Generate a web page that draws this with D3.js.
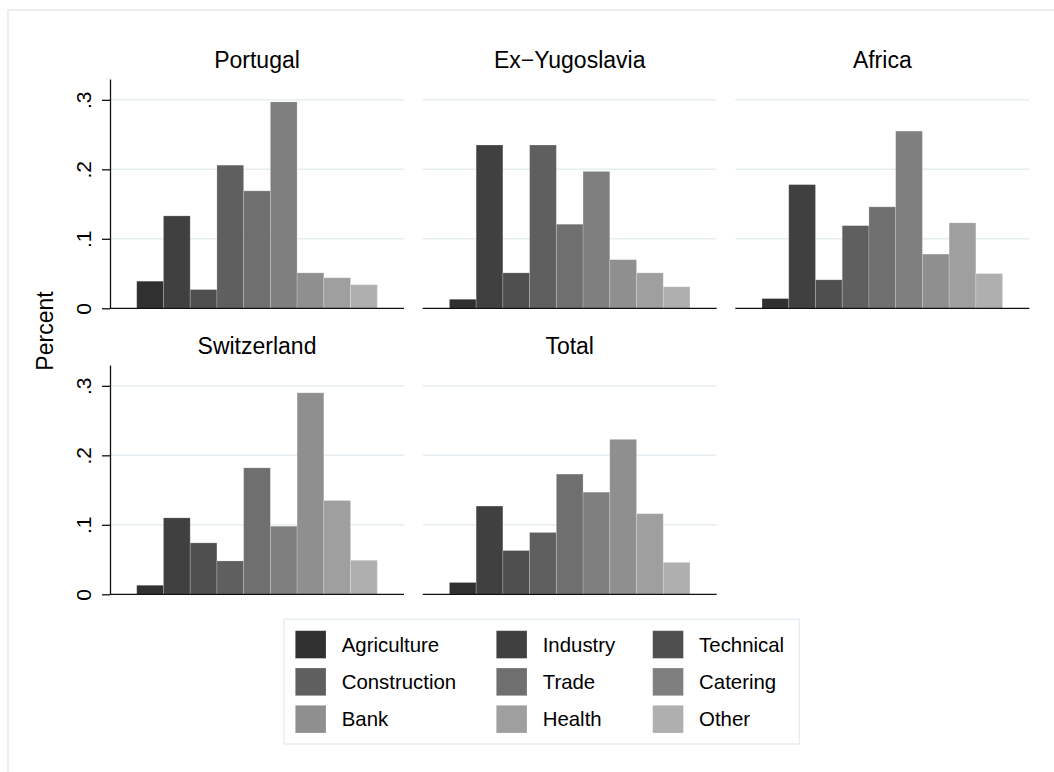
<!DOCTYPE html>
<html>
<head>
<meta charset="utf-8">
<script src="https://cdn.jsdelivr.net/npm/d3@7"></script>
<style>
  body { margin: 0; background: #fff; }
  text { font-family: "Liberation Sans", Arial, Helvetica, sans-serif; fill: #000; }
</style>
</head>
<body>
<div id="chart"></div>
<script>
// categories and shares per origin group
const sectors = ["Agriculture", "Industry", "Technical", "Construction", "Trade", "Catering", "Bank", "Health", "Other"];
const panels = ["Portugal", "Ex\u2212Yugoslavia", "Africa", "Switzerland", "Total"];
const portugal     = [0.039, 0.133, 0.027, 0.206, 0.169, 0.297, 0.051, 0.044, 0.034];
const exYugoslavia = [0.013, 0.235, 0.051, 0.235, 0.121, 0.197, 0.070, 0.051, 0.031];
const africa       = [0.014, 0.178, 0.041, 0.119, 0.146, 0.255, 0.078, 0.123, 0.050];
const switzerland  = [0.013, 0.110, 0.074, 0.048, 0.182, 0.098, 0.290, 0.135, 0.049];
const total        = [0.017, 0.127, 0.063, 0.089, 0.173, 0.147, 0.223, 0.116, 0.046];
const yTicks = [0, 0.1, 0.2, 0.3];
const yTickLabels = ["0", ".1", ".2", ".3"];
const greys = ["#303030", "#404040", "#4f4f4f", "#5f5f5f", "#6f6f6f", "#7f7f7f", "#8f8f8f", "#9f9f9f", "#afafaf"];

const seriesByPanel = [portugal, exYugoslavia, africa, switzerland, total];

const W = 1054, H = 772;
const svg = d3.select("#chart").append("svg")
  .attr("width", W).attr("height", H);

// light graph frame
svg.append("rect")
  .attr("x", 8).attr("y", 10).attr("width", 1200).attr("height", 900)
  .attr("fill", "#fff").attr("stroke", "#dde3e6").attr("stroke-width", 1.2);

const plotW = 294;
const colX = [110, 422.7, 735.3];
const rowTop = [79, 365], rowBase = [308.3, 594.3];

const color = d3.scaleOrdinal().domain(sectors).range(greys);

panels.forEach((name, i) => {
  const col = i % 3, row = Math.floor(i / 3);
  const left = colX[col];
  const g = svg.append("g");

  const x = d3.scaleBand().domain(sectors)
    .range([left, left + plotW]).paddingInner(0).paddingOuter(1);
  const y = d3.scaleLinear().domain([0, 0.33]).range([rowBase[row], rowTop[row]]);

  // gridlines
  g.selectAll("line.grid").data(yTicks.filter(d => d > 0)).join("line")
    .attr("class", "grid")
    .attr("x1", left).attr("x2", left + plotW)
    .attr("y1", d => y(d)).attr("y2", d => y(d))
    .attr("stroke", "#e6eef2").attr("stroke-width", 1.5);

  // bars
  g.selectAll("rect.bar").data(seriesByPanel[i]).join("rect")
    .attr("class", "bar")
    .attr("x", (d, j) => x(sectors[j]))
    .attr("y", d => y(d))
    .attr("width", x.bandwidth())
    .attr("height", d => y(0) - y(d))
    .attr("fill", (d, j) => color(sectors[j]))
    .attr("stroke", "#fff").attr("stroke-opacity", 0.25).attr("stroke-width", 0.8);

  // baseline
  g.append("line")
    .attr("x1", left).attr("x2", left + plotW)
    .attr("y1", y(0)).attr("y2", y(0))
    .attr("stroke", "#111").attr("stroke-width", 1.3);

  // y axis only on first column
  if (col === 0) {
    const ax = g.append("g")
      .attr("transform", `translate(${left},0)`)
      .call(d3.axisLeft(y).tickValues(yTicks).tickSize(8).tickSizeOuter(0)
        .tickFormat((d, k) => yTickLabels[k]));
    ax.select(".domain").attr("stroke", "#111").attr("stroke-width", 1.3);
    ax.selectAll(".tick line").attr("stroke", "#111").attr("stroke-width", 1.3);
    ax.selectAll(".tick text")
      .attr("x", 0).attr("dy", 0)
      .attr("text-anchor", "middle")
      .attr("transform", "translate(-19,0) rotate(-90)")
      .style("font-size", "21px")
      .style("font-family", "Liberation Sans, Arial, sans-serif")
      .attr("fill", "#000");
  }

  // panel title
  g.append("text")
    .attr("x", left + plotW / 2)
    .attr("y", rowTop[row] - 11)
    .attr("text-anchor", "middle")
    .style("font-size", "23px")
    .text(name);
});

// y axis title
svg.append("text")
  .attr("transform", "translate(53,331) rotate(-90)")
  .attr("text-anchor", "middle")
  .style("font-size", "23px")
  .text("Percent");

// legend
const legend = svg.append("g");
legend.append("rect")
  .attr("x", 284).attr("y", 619.3).attr("width", 515.3).attr("height", 124.7)
  .attr("fill", "#fff").attr("stroke", "#e6eef2").attr("stroke-width", 1.5);

const legSwatchX = [295.3, 496.3, 652.7];
const legRowY = [630.7, 668, 705.3];
const item = legend.selectAll("g.item").data(sectors).join("g")
  .attr("class", "item")
  .attr("transform", (d, k) => `translate(${legSwatchX[k % 3]},${legRowY[Math.floor(k / 3)]})`);
item.append("rect")
  .attr("width", 30.7).attr("height", 27.7)
  .attr("fill", d => color(d))
  .attr("stroke", "#fff").attr("stroke-opacity", 0.25).attr("stroke-width", 0.8);
item.append("text")
  .attr("x", 46.4).attr("y", 13.85).attr("dy", "0.35em")
  .style("font-size", "20.4px")
  .text(d => d);
</script>
</body>
</html>
